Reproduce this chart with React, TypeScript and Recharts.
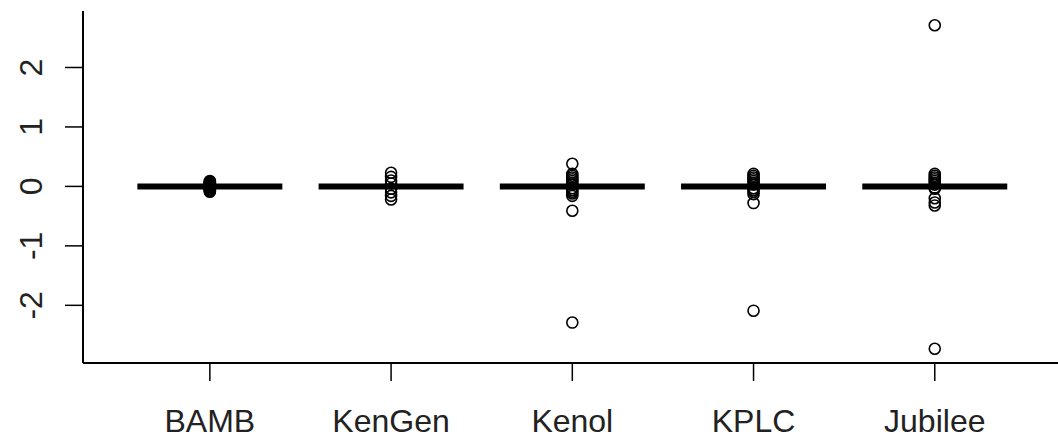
import React from 'react';
import { ComposedChart, Scatter, XAxis, YAxis, ReferenceLine } from 'recharts';

const categories = ['BAMB', 'KenGen', 'Kenol', 'KPLC', 'Jubilee'];
const medians = [0, 0, 0, 0, 0];
const yTicks = [-2, -1, 0, 1, 2];

// outlying returns per stock (many overlap near zero)
const bambPoints = [0.09, 0.08, 0.07, 0.06, 0.05, 0.04, 0.03, 0.02, 0.01, -0.01, -0.02, -0.03, -0.04, -0.05, -0.06, -0.07, -0.08, -0.09];
const kengenPoints = [0.23, 0.16, 0.1, 0.05, -0.04, -0.1, -0.16, -0.22];
const kenolPoints = [0.38, 0.21, 0.18, 0.15, 0.12, 0.09, 0.06, 0.03, -0.03, -0.06, -0.09, -0.12, -0.16, -0.41, -2.29];
const kplcPoints = [0.21, 0.18, 0.15, 0.12, 0.09, 0.06, 0.03, -0.03, -0.06, -0.09, -0.13, -0.28, -2.09];
const jubileePoints = [2.71, 0.21, 0.18, 0.15, 0.12, 0.09, 0.06, 0.03, -0.02, -0.04, -0.2, -0.27, -0.32, -2.73];

const allPoints = [bambPoints, kengenPoints, kenolPoints, kplcPoints, jubileePoints];

const scatterData = allPoints.flatMap((vals, i) => vals.map((v) => ({ x: i + 1, y: v })));

const FONT = '"Liberation Sans", Arial, sans-serif';

const OpenCircle = (props: any) => (
  <circle cx={props.cx} cy={props.cy} r={5.5} fill="none" stroke="#000" strokeWidth={1.6} />
);

const XTick = (props: any) => {
  const { x, y, payload } = props;
  return (
    <text x={x} y={y + 49} textAnchor="middle" fontSize={32} fontFamily={FONT} fill="#222">
      {categories[payload.value - 1]}
    </text>
  );
};

const YTick = (props: any) => {
  const { y, payload } = props;
  const bx = 42;
  return (
    <text x={bx} y={y} transform={`rotate(-90, ${bx}, ${y})`} textAnchor="middle" fontSize={32} fontFamily={FONT} fill="#222">
      {payload.value}
    </text>
  );
};

export default function App() {
  return (
    <div style={{ position: 'absolute', left: 0, top: 0, background: '#fff' }}>
      <ComposedChart width={1058} height={439} data={scatterData} margin={{ top: 11, right: 0, left: 0, bottom: 0 }}>
        <XAxis
          xAxisId="b"
          dataKey="x"
          type="number"
          domain={[0.3, 5.68]}
          allowDataOverflow
          ticks={[1, 2, 3, 4, 5]}
          height={76}
          tickSize={18}
          tickMargin={2}
          tick={<XTick />}
          axisLine={{ stroke: '#000', strokeWidth: 2 }}
          tickLine={{ stroke: '#000', strokeWidth: 1.5 }}
        />
        <XAxis
          xAxisId="t"
          orientation="top"
          dataKey="x"
          type="number"
          domain={[0.3, 5.68]}
          allowDataOverflow
          height={0}
          tick={false}
          tickLine={false}
          axisLine={{ stroke: '#000', strokeWidth: 2 }}
        />
        <YAxis
          dataKey="y"
          type="number"
          domain={[-2.97, 2.95]}
          allowDataOverflow
          ticks={yTicks}
          width={83}
          tickSize={18}
          tick={<YTick />}
          axisLine={{ stroke: '#000', strokeWidth: 2 }}
          tickLine={{ stroke: '#000', strokeWidth: 1.5 }}
        />
        {medians.map((m, i) => (
          <ReferenceLine
            key={categories[i]}
            xAxisId="b"
            segment={[{ x: i + 1 - 0.4, y: m }, { x: i + 1 + 0.4, y: m }]}
            stroke="#000"
            strokeWidth={6}
          />
        ))}
        <Scatter xAxisId="b" dataKey="y" data={scatterData} shape={<OpenCircle />} isAnimationActive={false} />
      </ComposedChart>
    </div>
  );
}
